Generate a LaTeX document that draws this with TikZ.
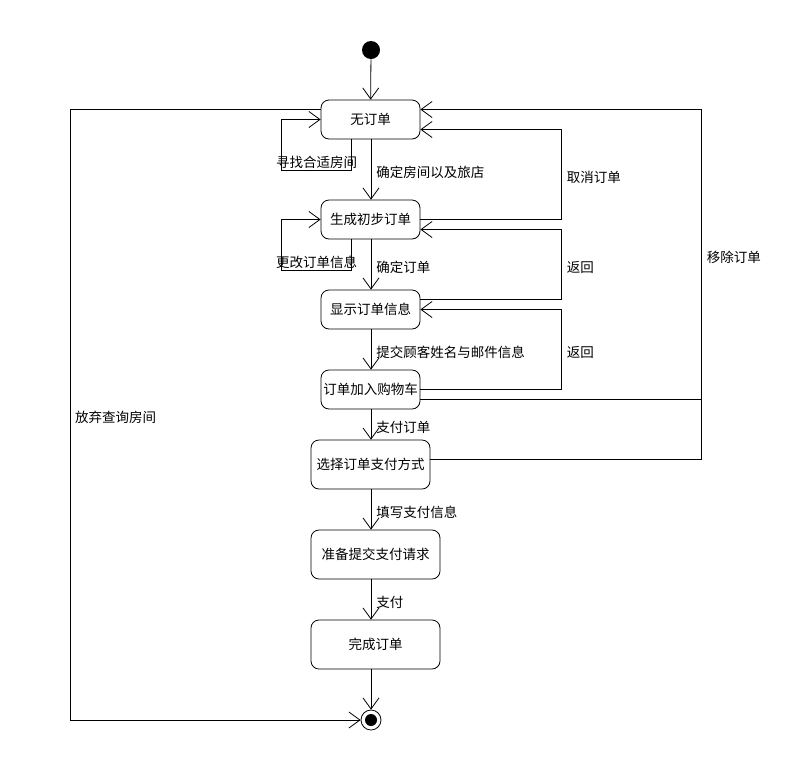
\documentclass[tikz,border=0pt]{standalone}
\usepackage{fontspec}
\newfontfamily\cjk{Noto Sans CJK SC}
\usetikzlibrary{arrows.meta}
\tikzset{
  state/.style={draw, rounded corners=8pt, minimum width=99pt, minimum height=39pt, inner sep=1pt},
  bigstate/.style={state, minimum height=49pt},
  trans/.style={-{Straight Barb[length=11pt,width=16pt]}},
  lbl/.style={anchor=west, inner sep=0pt, xshift=5pt, yshift=-2.5pt},
}
\begin{document}
\begin{tikzpicture}[x=1pt, y=-1pt, line width=0.8pt, every node/.style={font=\cjk\fontsize{13.5}{15}\selectfont}]
\useasboundingbox (0,0) rectangle (786,769);
% 状态
\node[circle, fill, minimum size=18pt, inner sep=0pt] (init) at (371,50) {};
\node[state] (s1) at (370.5,119.5) {无订单};
\node[state] (s2) at (370.5,219.5) {生成初步订单};
\node[state] (s3) at (370.5,309.5) {显示订单信息};
\node[state] (s4) at (370.5,389.5) {订单加入购物车};
\node[bigstate, minimum width=119pt] (s5) at (370.5,464.5) {选择订单支付方式};
\node[bigstate, minimum width=129pt] (s6) at (375.5,554.5) {准备提交支付请求};
\node[bigstate, minimum width=129pt] (s7) at (375.5,644.5) {完成订单};
\node[circle, draw, fill=white, minimum size=20pt, inner sep=0pt] (final) at (371,720) {};
\fill (final) circle (6pt);
% 主流程
\draw[trans] (init) -- (s1);
\foreach \a/\b/\t in {s1/s2/确定房间以及旅店, s2/s3/确定订单, s3/s4/提交顾客姓名与邮件信息,
                      s4/s5/支付订单, s5/s6/填写支付信息, s6/s7/支付}
  {\draw[trans] (\a.south -| init) -- node[lbl] {\t} (\b.north -| init);}
\draw[trans] (s7.south -| init) -- (final);
% 自环
\draw[trans] (s1.south west) ++(31,0) -- ++(0,31) -- node[above, inner sep=1pt] {寻找合适房间} ++(-70,0) |- (s1.west);
\draw[trans] (s2.south west) ++(31,0) -- ++(0,31) -- node[above, inner sep=1pt] {更改订单信息} ++(-70,0) |- (s2.west);
% 右侧的返回
\draw[trans] (s2.east) -- ++(141,0) |- node[lbl, pos=0.25] {取消订单} ([yshift=-10pt]s1.east);
\draw[trans] ([yshift=10pt]s3.east) -- ++(141,0) |- node[lbl, pos=0.25] {返回} ([yshift=-10pt]s2.east);
\draw[trans] (s4.east) -- ++(141,0) |- node[lbl, pos=0.25] {返回} (s3.east);
\draw[trans] ([yshift=-10pt]s4.east) -- ++(281,0) |- node[lbl, pos=0.25] {移除订单} ([yshift=10pt]s1.east);
\draw ([yshift=5pt]s5.east) -- ++(271,0) -- ++(0,-60);
% 放弃
\draw[trans] ([yshift=10pt]s1.west) -- ++(-250,0) |- node[lbl, pos=0.25, xshift=-1pt] {放弃查询房间} (final.west);
\end{tikzpicture}
\end{document}
